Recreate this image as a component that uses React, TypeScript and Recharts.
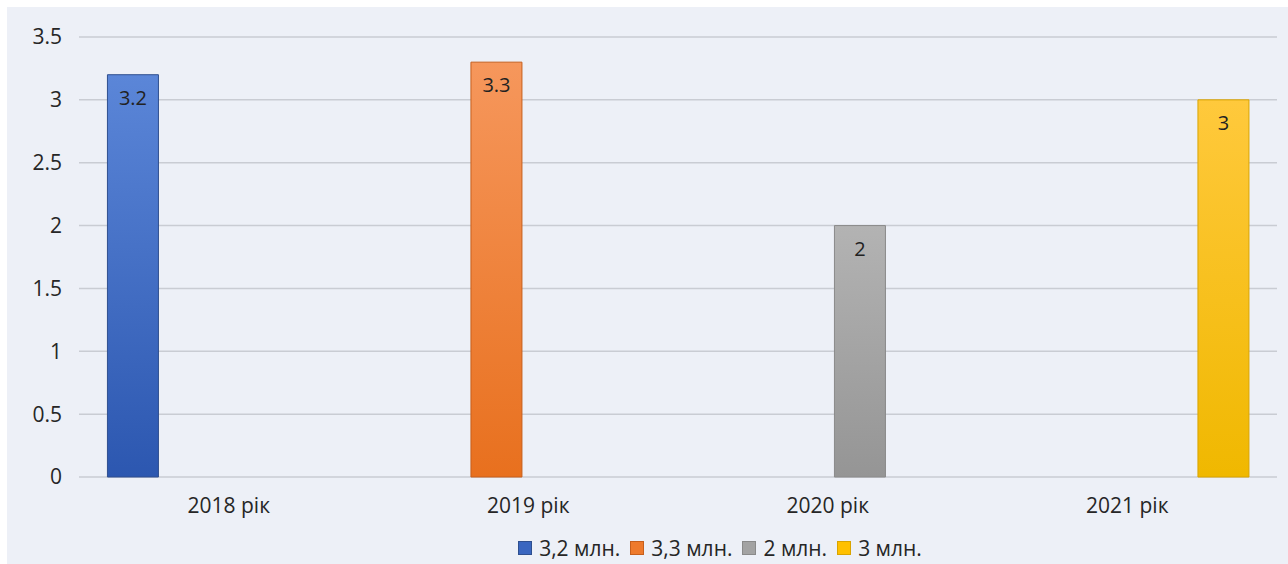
import { Bar, BarChart, CartesianGrid, LabelList, Legend, XAxis, YAxis } from "recharts";

const categories = ["2018 рік", "2019 рік", "2020 рік", "2021 рік"];
const seriesNames = ["3,2 млн.", "3,3 млн.", "2 млн.", "3 млн."];
const series1 = [3.2, null, null, null];
const series2 = [null, 3.3, null, null];
const series3 = [null, null, 2, null];
const series4 = [null, null, null, 3];
const yTicks = [0, 0.5, 1, 1.5, 2, 2.5, 3, 3.5];

const seriesValues = [series1, series2, series3, series4];
const keys = ["s1", "s2", "s3", "s4"];

// top colour, bottom colour, edge, legend swatch
const palette = [
  { top: "#5b86d8", bottom: "#2c57b0", edge: "#2f4f8f", swatch: "#3a66c0" },
  { top: "#f6975c", bottom: "#e8701e", edge: "#c65f1c", swatch: "#ee7a2c" },
  { top: "#b3b3b3", bottom: "#959595", edge: "#8a8a8a", swatch: "#a3a3a3" },
  { top: "#ffc93c", bottom: "#f0b800", edge: "#d9a400", swatch: "#ffc000" },
];

const rows = categories.map((name, i) => {
  const row: Record<string, string | number | null> = { name };
  keys.forEach((k, j) => {
    row[k] = seriesValues[j][i];
  });
  return row;
});

const FONT = "'Open Sans', sans-serif";

function LegendBox() {
  return (
    <div
      style={{
        display: "flex",
        justifyContent: "center",
        gap: 10,
        fontFamily: FONT,
        fontSize: 21,
        fontWeight: 500,
        color: "#262626",
        lineHeight: "24px",
      }}
    >
      {seriesNames.map((n, i) => (
        <span key={n} style={{ display: "flex", alignItems: "center", gap: 7 }}>
          <span
            style={{
              width: 14,
              height: 14,
              background: palette[i].swatch,
              border: `1px solid ${palette[i].edge}`,
              boxSizing: "border-box",
              display: "inline-block",
            }}
          />
          {n}
        </span>
      ))}
    </div>
  );
}

export default function App() {
  return (
    <div style={{ position: "absolute", left: 0, top: 0, width: 1288, height: 564, background: "#fff" }}>
      <div style={{ position: "absolute", left: 7, top: 7, right: 0, bottom: 0, background: "#edf0f7" }} />
      <div style={{ position: "absolute", left: 0, top: 0 }}>
        <BarChart
          width={1288}
          height={564}
          data={rows}
          margin={{ top: 37, right: 11, bottom: 23, left: 0 }}
          barCategoryGap="9.5%"
          barGap={13}
        >
          <defs>
            {palette.map((p, i) => (
              <linearGradient key={i} id={`g${i}`} x1="0" y1="0" x2="0" y2="1">
                <stop offset="0%" stopColor={p.top} />
                <stop offset="100%" stopColor={p.bottom} />
              </linearGradient>
            ))}
          </defs>
          <CartesianGrid vertical={false} stroke="#c9ccd3" strokeWidth={1.5} />
          <XAxis
            dataKey="name"
            axisLine={false}
            tickLine={false}
            height={40}
            tickMargin={15}
            tick={{ fontSize: 21, fontWeight: 500, fill: "#262626", fontFamily: FONT }}
          />
          <YAxis
            width={79}
            domain={[0, 3.5]}
            ticks={yTicks}
            axisLine={false}
            tickLine={false}
            tickMargin={11}
            tick={{ fontSize: 21, fontWeight: 500, fill: "#262626", fontFamily: FONT }}
          />
          <Legend
            verticalAlign="bottom"
            content={() => <LegendBox />}
            wrapperStyle={{ left: 152, width: 1136, bottom: 4, height: 24 }}
          />
          {keys.map((k, i) => (
            <Bar
              key={k}
              dataKey={k}
              name={seriesNames[i]}
              fill={`url(#g${i})`}
              stroke={palette[i].edge}
              strokeWidth={1}
              isAnimationActive={false}
            >
              <LabelList
                dataKey={k}
                position="insideTop"
                offset={16}
                style={{ fontSize: 20, fontWeight: 500, fill: "#222", fontFamily: FONT }}
              />
            </Bar>
          ))}
        </BarChart>
      </div>
    </div>
  );
}
